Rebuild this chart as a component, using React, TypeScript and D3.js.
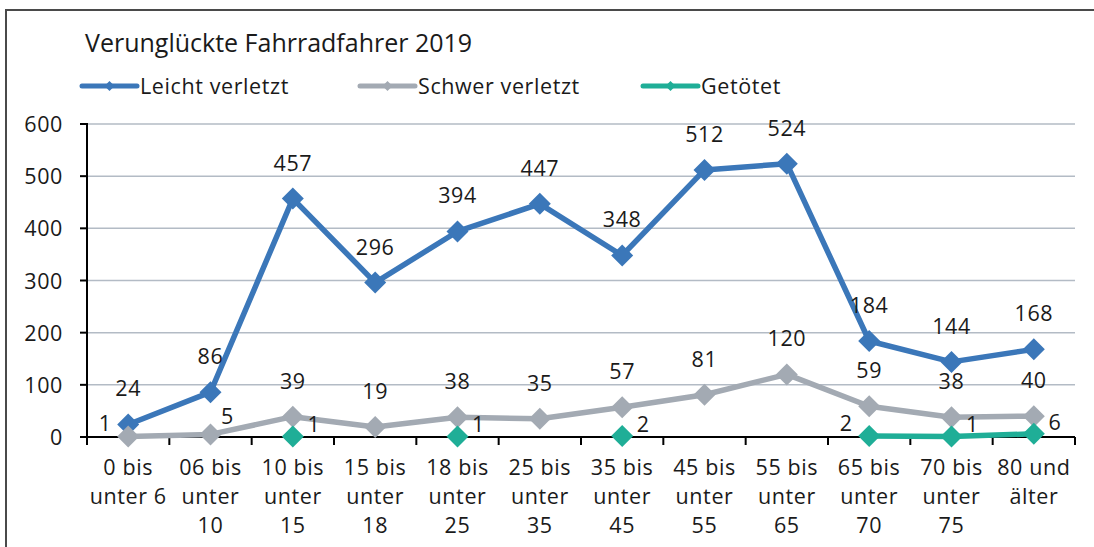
import React from "react";
import * as d3 from "d3";

const title = "Verunglückte Fahrradfahrer 2019";
const categories = [
  "0 bis\nunter 6",
  "06 bis\nunter\n10",
  "10 bis\nunter\n15",
  "15 bis\nunter\n18",
  "18 bis\nunter\n25",
  "25 bis\nunter\n35",
  "35 bis\nunter\n45",
  "45 bis\nunter\n55",
  "55 bis\nunter\n65",
  "65 bis\nunter\n70",
  "70 bis\nunter\n75",
  "80 und\nälter",
];
const leichtVerletzt: (number | null)[] = [24, 86, 457, 296, 394, 447, 348, 512, 524, 184, 144, 168];
const schwerVerletzt: (number | null)[] = [1, 5, 39, 19, 38, 35, 57, 81, 120, 59, 38, 40];
const getoetet: (number | null)[] = [null, null, 1, null, 1, null, 2, null, null, 2, 1, 6];
const yTicks = [0, 100, 200, 300, 400, 500, 600];

// label placement keywords per point
const leichtLabelPos = Array(12).fill("above");
const schwerLabelPos = ["left", "aboveRight", "above", "above", "above", "above", "above", "above", "above", "above", "above", "above"];
const getoetetLabelPos = ["right", "right", "right", "right", "right", "right", "right", "right", "right", "left", "right", "right"];

const seriesNames = ["Leicht verletzt", "Schwer verletzt", "Getötet"];
const colors = ["#3b77b9", "#a3aab3", "#1fae97"];

const FONT = "'Open Sans', Lato, sans-serif";
const W = 1094;
const H = 547;
const FS = 21.5;
const LS = 0.6;

const offsets: Record<string, [number, number]> = {
  above: [0, -36],
  left: [-23, -13],
  right: [21, -12],
  aboveRight: [17, -18],
};

export default function App() {
  const x = d3.scaleBand<string>().domain(categories).range([87, 1075]).paddingInner(0).paddingOuter(0);
  const y = d3.scaleLinear().domain([0, 600]).range([437, 124]);
  const cx = (i: number) => (x(categories[i]) as number) + x.bandwidth() / 2;

  const series = [
    { name: seriesNames[0], values: leichtVerletzt, color: colors[0], pos: leichtLabelPos },
    { name: seriesNames[1], values: schwerVerletzt, color: colors[1], pos: schwerLabelPos },
    { name: seriesNames[2], values: getoetet, color: colors[2], pos: getoetetLabelPos },
  ];

  const line = d3
    .line<number | null>()
    .defined((d) => d != null)
    .x((_, i) => cx(i))
    .y((d) => y(d as number));

  const diamond = (px: number, py: number, r: number) =>
    `M${px},${py - r}L${px + r},${py}L${px},${py + r}L${px - r},${py}Z`;

  const boundaries = categories.map((c) => x(c) as number).concat([1075]);
  const legendX = [82, 360, 643];

  return (
    <svg
      width={W}
      height={H}
      style={{ position: "absolute", left: 0, top: 0, background: "#fff" }}
      fontFamily={FONT}
    >
      <rect x={6} y={10} width={1200} height={700} fill="#fff" stroke="#4a4a4a" strokeWidth={2} />
      <text x={85} y={52} fontSize={25} fill="#1a1a1a">
        {title}
      </text>
      {series.map((s, k) => (
        <g key={s.name}>
          <line x1={legendX[k]} x2={legendX[k] + 55} y1={86} y2={86} stroke={s.color} strokeWidth={5} strokeLinecap="round" />
          <path d={diamond(legendX[k] + 27.5, 86, 5)} fill={s.color} />
          <text x={legendX[k] + 58} y={94} fontSize={FS} letterSpacing={LS} fill="#1a1a1a">
            {s.name}
          </text>
        </g>
      ))}
      {yTicks.map((t) => (
        <g key={t}>
          {t > 0 && <line x1={87} x2={1075} y1={y(t)} y2={y(t)} stroke="#b3bbc5" strokeWidth={1.5} />}
          <line x1={80} x2={87} y1={y(t)} y2={y(t)} stroke="#000" strokeWidth={2} />
          <text x={63} y={y(t) + 8} textAnchor="end" fontSize={FS} letterSpacing={LS} fill="#1a1a1a">
            {t}
          </text>
        </g>
      ))}
      <line x1={87} x2={87} y1={y(600) - 1} y2={y(0)} stroke="#000" strokeWidth={2} />
      <line x1={87} x2={1075} y1={y(0)} y2={y(0)} stroke="#000" strokeWidth={2} />
      {boundaries.map((b, i) => (
        <line key={i} x1={b} x2={b} y1={y(0)} y2={y(0) + 8} stroke="#000" strokeWidth={2} />
      ))}
      {categories.map((c, i) => (
        <text key={c} textAnchor="middle" fontSize={FS} letterSpacing={LS} fill="#1a1a1a">
          {c.split("\n").map((ln, j) => (
            <tspan key={j} x={cx(i)} y={475 + j * 29}>
              {ln}
            </tspan>
          ))}
        </text>
      ))}
      {series.map((s) => (
        <g key={s.name}>
          <path d={line(s.values) || ""} fill="none" stroke={s.color} strokeWidth={5.5} strokeLinejoin="round" />
          {s.values.map((v, i) =>
            v == null ? null : <path key={i} d={diamond(cx(i), y(v), 11)} fill={s.color} />
          )}
        </g>
      ))}
      {series.map((s) => (
        <g key={s.name + "-labels"}>
          {s.values.map((v, i) => {
            if (v == null) return null;
            const [dx, dy] = offsets[s.pos[i]];
            return (
              <text
                key={i}
                x={cx(i) + dx}
                y={y(v) + dy + 8}
                textAnchor="middle"
                fontSize={FS}
                letterSpacing={LS}
                fill="#1a1a1a"
              >
                {v}
              </text>
            );
          })}
        </g>
      ))}
    </svg>
  );
}
